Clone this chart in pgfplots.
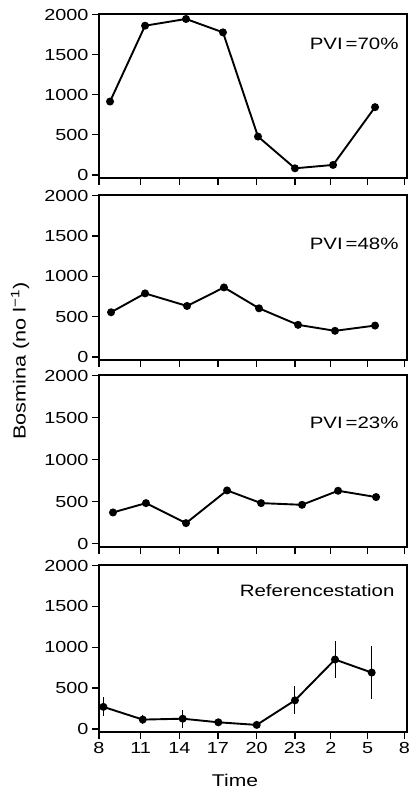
\documentclass[border=0pt]{standalone}
\usepackage{fontspec}
\setmainfont[FakeStretch=1.24]{Liberation Sans}
\usepackage{pgfplots}
\pgfplotsset{compat=1.18}
\pgfplotsset{
 panel/.style={
  scale only axis, width=308pt, xmin=8, xmax=32,
  ymin=-38, ymax=2008,
  xtick={8,11.25,14.26,17.27,20.29,23.27,26.06,28.94,31.79}, xticklabels={},
  ytick={0,500,1000,1500,2000},
  tick align=outside, xtick pos=bottom, ytick pos=left,
  major tick length=7pt,
  /pgf/number format/assume math mode=true,
  /pgf/number format/1000 sep={},
  tick label style={font=\fontsize{16}{18}\selectfont},
  axis line style={line width=1.2pt},
  major tick style={line width=1.2pt, black},
  anchor=north west,
  clip=false,
 },
 dat/.style={black, line width=1.9pt, mark=*, mark size=3pt, mark options={solid}},
}
\tikzset{pvi/.style={anchor=east, font=\fontsize{16.5}{18}\selectfont}}
\begin{document}
\begin{tikzpicture}
\path[use as bounding box] (-99pt,14pt) rectangle (311pt,-776pt);
% Panel 1
\begin{axis}[panel, at={(0pt,0pt)}, height=164pt]
\addplot[dat] coordinates {(8.86,916) (11.59,1862) (14.78,1946) (17.66,1779) (20.39,479) (23.27,83) (26.24,125) (29.51,846)};
\node[pvi] at (axis cs:31.61,1637) {PVI\,=70\%};
\end{axis}
% Panel 2
\begin{axis}[panel, at={(0pt,-181pt)}, height=165pt]
\addplot[dat] coordinates {(8.94,554) (11.59,788) (14.86,632) (17.74,862) (20.47,603) (23.51,398) (26.39,324) (29.51,389)};
\node[pvi] at (axis cs:31.61,1408) {PVI\,=48\%};
\end{axis}
% Panel 3
\begin{axis}[panel, at={(0pt,-361pt)}, height=172pt]
\addplot[dat] coordinates {(9.09,373) (11.66,484) (14.78,246) (17.98,635) (20.63,484) (23.82,464) (26.63,631) (29.59,556)};
\node[pvi] at (axis cs:31.61,1440) {PVI\,=23\%};
\end{axis}
% Panel 4
\begin{axis}[panel, at={(0pt,-551pt)}, height=167pt,
  xticklabels={8,11,14,17,20,23,2,5,8}]
\addplot[dat, error bars/.cd, y dir=both, y explicit, error mark=none,
  error bar style={line width=1pt, black}]
  coordinates {(8.34,270) +- (0,115) (11.41,114) +- (0,60) (14.52,125) +- (0,110)
   (17.30,81) +- (0,40) (20.29,49) +- (0,30) (23.27,350) +- (0,170)
   (26.39,850) +- (0,225) (29.25,690) +- (0,320)};
\node[pvi] at (axis cs:31.3,1693) {Referencestation};
\end{axis}
\node[rotate=90, font=\fontsize{17.5}{19}\selectfont] at (-79pt,-347pt) {Bosmina (no l\textsuperscript{−1})};
\node[font=\fontsize{17}{19}\selectfont] at (136pt,-766pt) {Time};
\end{tikzpicture}
\end{document}
